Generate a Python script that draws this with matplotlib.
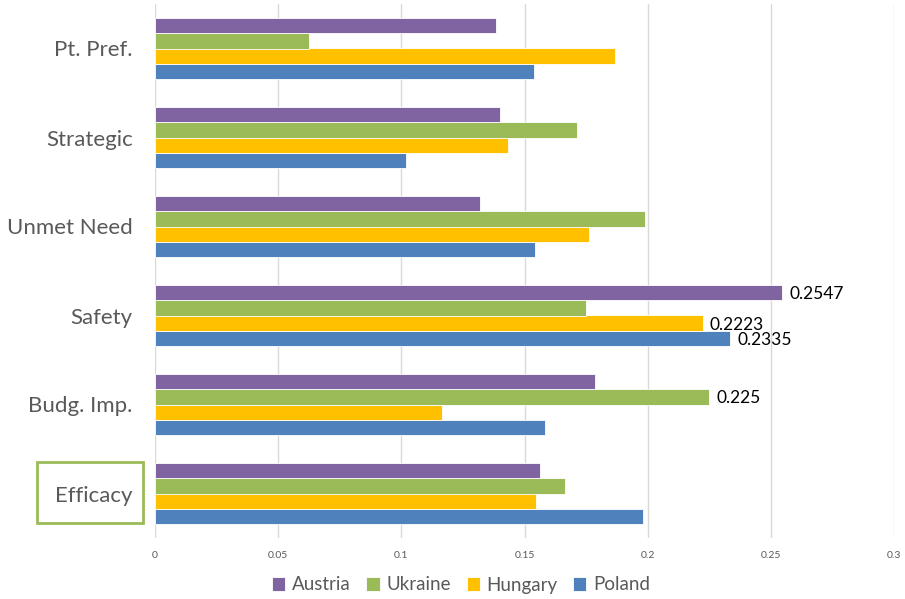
import numpy as np
import matplotlib
matplotlib.use("Agg")
import matplotlib.pyplot as plt
from matplotlib.patches import Rectangle

# categories bottom -> top (as drawn)
categories = ["Efficacy", "Budg. Imp.", "Safety", "Unmet Need", "Strategic", "Pt. Pref."]
poland = [0.1981, 0.1582, 0.2335, 0.1543, 0.1017, 0.1538]
hungary = [0.1546, 0.1165, 0.2223, 0.1761, 0.1431, 0.1866]
ukraine = [0.1666, 0.225, 0.1748, 0.1990, 0.1715, 0.0625]
austria = [0.1561, 0.1787, 0.2547, 0.1318, 0.1400, 0.1383]
x_ticks = [0, 0.05, 0.1, 0.15, 0.2, 0.25, 0.3]
x_tick_labels = ["0", "0.05", "0.1", "0.15", "0.2", "0.25", "0.3"]

# which bars get a value label: (series, category)
labelled = [("Austria", "Safety"), ("Hungary", "Safety"), ("Poland", "Safety"),
            ("Ukraine", "Budg. Imp.")]

plt.rcParams['font.family'] = ['Lato', 'DejaVu Sans']

series = [("Poland", poland, "#4F81BD"),
          ("Hungary", hungary, "#FFC000"),
          ("Ukraine", ukraine, "#9BBB59"),
          ("Austria", austria, "#8064A2")]

fig = plt.figure(figsize=(9.05, 5.99), dpi=100)
ax = fig.add_axes([155 / 905, 1 - 538 / 599, 739 / 905, 534 / 599])

y = np.arange(len(categories))
h = 0.173
bars = {}
for i, (name, vals, col) in enumerate(series):
    pos = y + (i - 1.5) * h
    bars[name] = ax.barh(pos, vals, height=h, color=col, edgecolor="white",
                         linewidth=0.6, label=name, zorder=3)

for name, cat in labelled:
    idx = categories.index(cat)
    rect = bars[name][idx]
    v = rect.get_width()
    ax.annotate(f"{v:g}", (v, rect.get_y() + rect.get_height() / 2),
                xytext=(5, -1), textcoords="offset points", va="center",
                ha="left", fontsize=12.5, color="black")

ax.set_xlim(0, 0.3)
ax.set_ylim(-0.5, len(categories) - 0.5)
ax.set_xticks(x_ticks)
ax.set_xticklabels(x_tick_labels, fontsize=7.5, color="#595959")
ax.set_yticks(y)
ax.set_yticklabels(categories, fontsize=16, color="#595959")
ax.tick_params(axis="x", length=0, pad=9)
ax.tick_params(axis="y", length=0, pad=16)
ax.grid(axis="x", color="#D9D9D9", linewidth=1, zorder=0)
for s in ax.spines.values():
    s.set_visible(False)

# green box around Efficacy label
fig.patches.append(Rectangle((37 / 905, 1 - 523 / 599), 106 / 905, 61 / 599,
                             transform=fig.transFigure, fill=False,
                             edgecolor="#9BBB59", linewidth=2))

handles = [bars[n] for n in ["Austria", "Ukraine", "Hungary", "Poland"]]
fig.legend(handles, ["Austria", "Ukraine", "Hungary", "Poland"],
           loc="center", bbox_to_anchor=(461 / 905, 1 - 585 / 599), ncol=4,
           frameon=False, fontsize=13.5, handlelength=0.7, handleheight=0.7,
           handletextpad=0.35, columnspacing=0.85, labelcolor="#595959")

fig.savefig("out.png", dpi=100)
